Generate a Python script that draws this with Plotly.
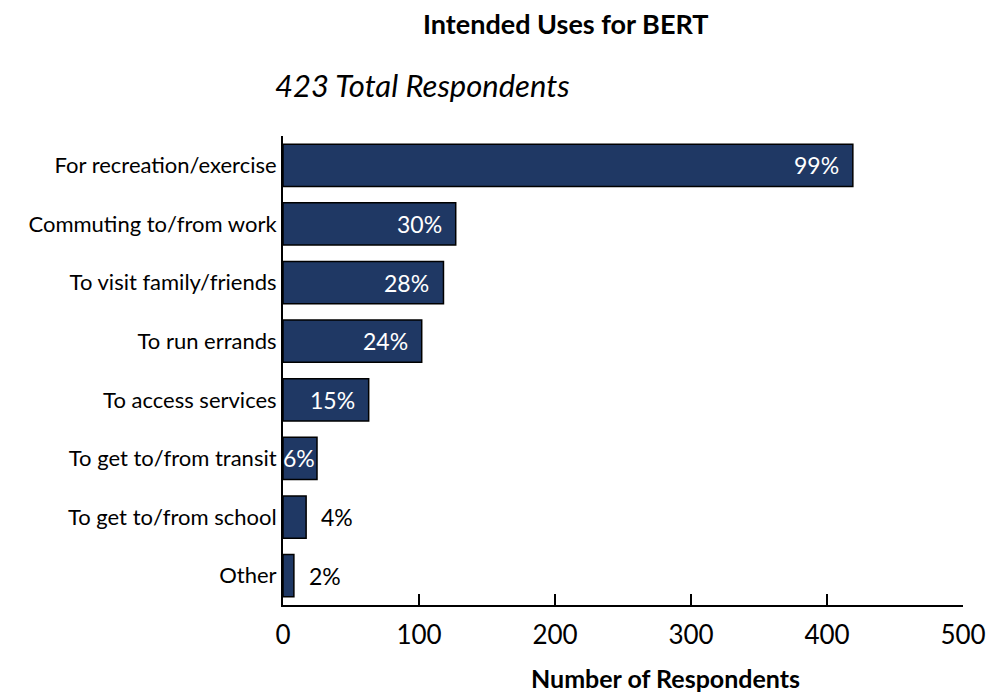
import plotly.graph_objects as go

categories = ["For recreation/exercise", "Commuting to/from work", "To visit family/friends",
              "To run errands", "To access services", "To get to/from transit",
              "To get to/from school", "Other"]
respondents = [419, 127, 118, 102, 63, 25, 17, 8]
pct_labels = ["99%", "30%", "28%", "24%", "15%", "6%", "4%", "2%"]
inside = [True, True, True, True, True, True, False, False]
x_ticks = [0, 100, 200, 300, 400, 500]

FONT = "Lato, Open Sans, sans-serif"
NAVY = "#1F3864"

W, H = 1001, 694
# page offset of 8px (body margin) is taken into account
PL, PT, PR, PB = 283, 136, 963, 605   # plot area in page pixels
L, T = PL - 8, PT - 8
R = 8 + W - PR
B = 8 + H - PB

fig = go.Figure()
fig.add_trace(go.Bar(
    y=categories, x=respondents, orientation="h",
    marker=dict(color=NAVY, line=dict(color="black", width=1.5)),
    width=0.72, hoverinfo="skip",
))

annotations = []
for cat, val, lab, ins in zip(categories, respondents, pct_labels, inside):
    if ins:
        annotations.append(dict(x=val, y=cat, xref="x", yref="y", text=lab, showarrow=False,
                                xanchor="right", xshift=-12 if val > 50 else 0,
                                font=dict(family=FONT, size=23, color="white")))
    else:
        annotations.append(dict(x=val, y=cat, xref="x", yref="y", text=lab, showarrow=False,
                                xanchor="left", xshift=13,
                                font=dict(family=FONT, size=23, color="black")))


def px2paper(px, py):
    return (px - PL) / (PR - PL), 1 - (py - PT) / (PB - PT)


for txt, px, py, size in [("<b>Intended Uses for BERT</b>", 565, 24, 27),
                          ("<i>423 Total Respondents</i>", 422, 85, 31),
                          ("<b>Number of Respondents</b>", 665, 678, 25)]:
    x, y = px2paper(px, py)
    annotations.append(dict(text=txt, x=x, y=y, xref="paper", yref="paper",
                            xanchor="center", yanchor="middle", showarrow=False,
                            font=dict(family=FONT, size=size, color="black")))

fig.update_layout(
    width=W, height=H,
    margin=dict(l=L, r=R, t=T, b=B),
    plot_bgcolor="white", paper_bgcolor="white",
    showlegend=False,
    annotations=annotations,
    xaxis=dict(range=[0, 500], tickvals=x_ticks, ticks="inside", ticklen=11, tickwidth=2,
               tickcolor="black", showline=True, linecolor="black", linewidth=2,
               showgrid=False, zeroline=False, ticklabelstandoff=6,
               tickfont=dict(family=FONT, size=26, color="black")),
    yaxis=dict(categoryorder="array", categoryarray=categories, autorange="reversed",
               showline=True, linecolor="black", linewidth=2, showgrid=False,
               ticks="", ticklabelstandoff=0,
               tickfont=dict(family=FONT, size=22, color="black")),
)

fig.write_html("out.html")
